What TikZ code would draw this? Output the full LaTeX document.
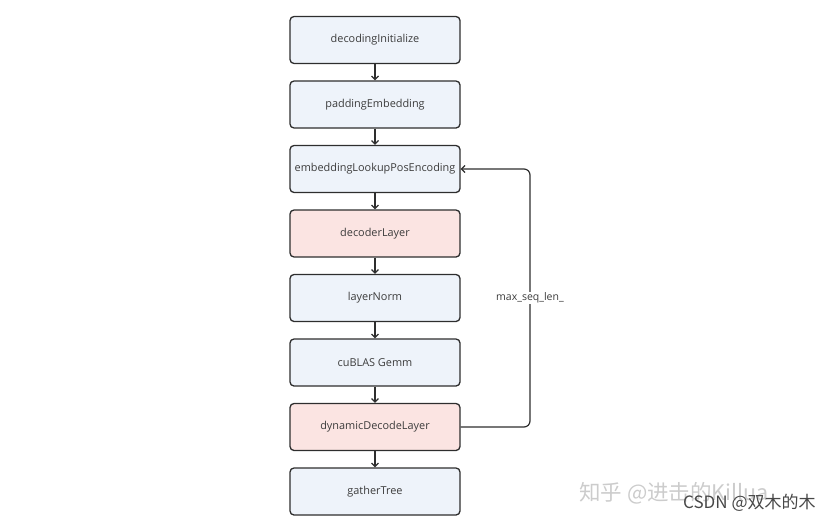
\documentclass[tikz,border=0pt]{standalone}
\usepackage{fontspec}
\setmainfont{Open Sans}
\newfontfamily\cjk{Noto Sans CJK SC}
\usepackage{tikz}
\usetikzlibrary{calc}
\usetikzlibrary{arrows.meta}
\definecolor{boxline}{HTML}{2E2E2E}
\definecolor{bluefill}{HTML}{EEF3FA}
\definecolor{redfill}{HTML}{FBE4E2}
\definecolor{txt}{HTML}{3C3C3C}
\begin{document}
\begin{tikzpicture}[x=1pt,y=-1pt,
      stage/.style={draw=boxline, line width=1.3pt, rectangle, rounded corners=4pt, fill=bluefill, text=txt, font=\fontsize{10.9}{12}\selectfont, minimum width=170pt, minimum height=47pt, inner sep=2pt},
      hot/.style={stage, fill=redfill},
      flow/.style={draw=boxline, line width=1.2pt, -{Straight Barb[length=3.5pt,width=7pt]}}
    ]
    \useasboundingbox (0,0) rectangle (835,525);

    \node[stage] (init) at (375,40) {decodingInitialize};
    \node[stage] (pad) at (375,104.5) {paddingEmbedding};
    \node[stage] (emb) at (375,169) {embeddingLookupPosEncoding};
    \node[hot] (dec) at (375,233.5) {decoderLayer};
    \node[stage] (norm) at (375,298) {layerNorm};
    \node[stage] (gemm) at (375,362.5) {cuBLAS Gemm};
    \node[hot] (dyn) at (375,427) {dynamicDecodeLayer};
    \node[stage] (tree) at (375,491.5) {gatherTree};

    \path[flow] (init) -- (pad);
    \path[flow] (pad) -- (emb);
    \path[flow] (emb) -- (dec);
    \path[flow] (dec) -- (norm);
    \path[flow] (norm) -- (gemm);
    \path[flow] (gemm) -- (dyn);
    \path[flow] (dyn) -- (tree);

    % loop back over the sequence length
    \coordinate (turn) at (530,298);
    \draw[flow, rounded corners=6pt] (dyn.east) -| (turn) |- (emb.east);
    \node[fill=white, text=txt, font=\fontsize{10.5}{12}\selectfont, inner sep=1pt] (len) at (turn) {max\_seq\_len\_};

    % watermarks
    \node[text=black!20, font=\cjk\fontsize{21.5}{24}\selectfont, anchor=west, inner sep=0pt] (zhihu) at (579,493) {知乎 @进击的Killua};
    \node[text=black!72, font=\cjk\fontsize{17}{19}\selectfont, anchor=west, inner sep=0pt] (csdn) at (683,503) {CSDN @双木的木};
  \end{tikzpicture}
\end{document}
